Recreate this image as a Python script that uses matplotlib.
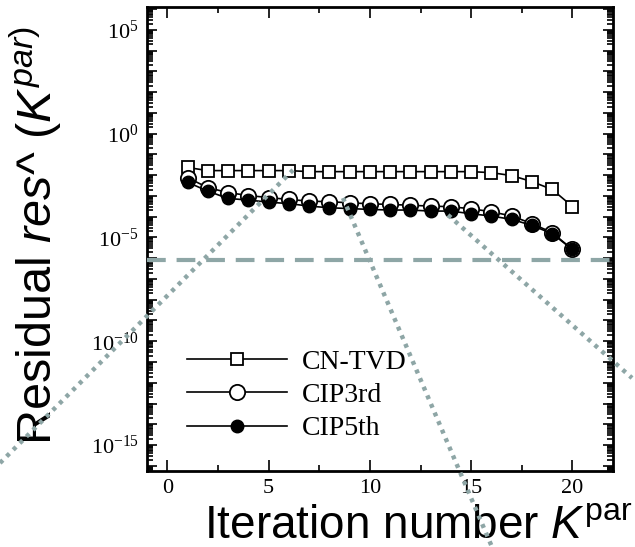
import numpy as np
import matplotlib
matplotlib.use("Agg")
import matplotlib.pyplot as plt
from matplotlib.lines import Line2D
from matplotlib.ticker import LogLocator, FuncFormatter, MultipleLocator

plt.rcParams['mathtext.fontset'] = 'custom'
plt.rcParams['mathtext.rm'] = 'Liberation Sans'
plt.rcParams['mathtext.it'] = 'Liberation Sans:italic'

# ---- data (log10 of residual) ----
iterations = list(range(1, 21))
cn_tvd_log = [-1.63, -1.78, -1.78, -1.78, -1.78, -1.78, -1.83, -1.83, -1.83, -1.83,
              -1.83, -1.83, -1.83, -1.83, -1.83, -1.88, -2.02, -2.31, -2.69, -3.51]
cip3_log = [-2.12, -2.60, -2.84, -2.98, -3.08, -3.17, -3.25, -3.28, -3.33, -3.38,
            -3.41, -3.45, -3.49, -3.52, -3.62, -3.76, -3.97, -4.33, -4.77, -5.58]
cip5_log = [-2.34, -2.77, -3.12, -3.20, -3.30, -3.37, -3.49, -3.57, -3.61, -3.65,
            -3.68, -3.68, -3.73, -3.73, -3.86, -3.97, -4.13, -4.42, -4.82, -5.58]
series_names = ["CN-TVD", "CIP3rd", "CIP5th"]
threshold_log = -6.1
x_ticks = [0, 5, 10, 15, 20]

# decorative overlay lines (figure pixel coords)
overlay_lines = [
    [(0, 463), (293, 170)],
    [(343, 198), (492, 547)],
    [(448, 215), (632, 378)],
]

W, H = 635, 547
fig = plt.figure(figsize=(W / 100, H / 100), dpi=100)
ax = fig.add_axes([147 / W, 1 - 471 / H, (613 - 147) / W, (471 - 7) / H])

lw = 1.2
ax.plot(iterations, [10 ** v for v in cn_tvd_log], color='black', lw=lw,
        marker='s', ms=9, mfc='white', mec='black', mew=1.3, label=series_names[0], zorder=3)
ax.plot(iterations, [10 ** v for v in cip3_log], color='black', lw=lw,
        marker='o', ms=11, mfc='white', mec='black', mew=1.3, label=series_names[1], zorder=3)
ax.plot(iterations, [10 ** v for v in cip5_log], color='black', lw=lw,
        marker='o', ms=9, mfc='black', mec='black', mew=1.0, label=series_names[2], zorder=4)

gray = '#8ea6a6'
ax.axhline(10 ** threshold_log, color=gray, lw=3.0, dashes=(4.5, 2.6), zorder=5)

ax.set_yscale('log')
ax.set_xlim(-1, 22)
ax.set_ylim(10 ** -16.25, 10 ** 6.1)
ax.set_xticks(x_ticks)
ax.xaxis.set_minor_locator(MultipleLocator(2.5))
ax.yaxis.set_major_locator(LogLocator(base=10, subs=(1.0,), numticks=40))
ax.yaxis.set_minor_locator(LogLocator(base=10, subs=np.arange(2, 10), numticks=40))


def yfmt(v, pos):
    e = int(round(np.log10(v)))
    if e % 5 == 0:
        return r'$\mathdefault{10^{%d}}$' % e
    return ''


ax.yaxis.set_major_formatter(FuncFormatter(yfmt))
ax.yaxis.set_minor_formatter(FuncFormatter(lambda v, p: ''))

ax.tick_params(which='both', direction='in', top=True, right=True, width=1.2)
ax.tick_params(which='major', length=7)
ax.tick_params(which='minor', length=4)
ax.tick_params(axis='x', which='major', length=8)
for lab in ax.get_xticklabels() + ax.get_yticklabels():
    lab.set_fontfamily('Liberation Serif')
    lab.set_fontsize(16)
ax.tick_params(axis='x', pad=6)
ax.tick_params(axis='y', pad=6)
for s in ax.spines.values():
    s.set_linewidth(2.0)

leg = ax.legend(loc='upper left', bbox_to_anchor=(0.086, 0.262), frameon=False,
                prop={'family': 'Liberation Serif', 'size': 20},
                handlelength=3.6, handletextpad=0.55, labelspacing=0.28,
                borderpad=0, borderaxespad=0)

for pts in overlay_lines:
    xs = [p[0] / W for p in pts]
    ys = [1 - p[1] / H for p in pts]
    fig.add_artist(Line2D(xs, ys, transform=fig.transFigure, color=gray, lw=3.2,
                          linestyle=(0, (0.9, 1.2)), zorder=10))

xl = fig.text(632 / W, 1 - 538 / H, r'Iteration number $\mathit{K}^{\mathrm{par}}$',
              family='Liberation Sans', fontsize=33, ha='right', va='baseline')
fig.text(36 / W, 1 - 236 / H, r'Residual $\mathit{res}$^ $\mathit{(K}^{\mathit{par)}}$',
         family='Liberation Sans', fontsize=35, ha='center', va='center', rotation=90)

fig.savefig('out.png', dpi=100)
